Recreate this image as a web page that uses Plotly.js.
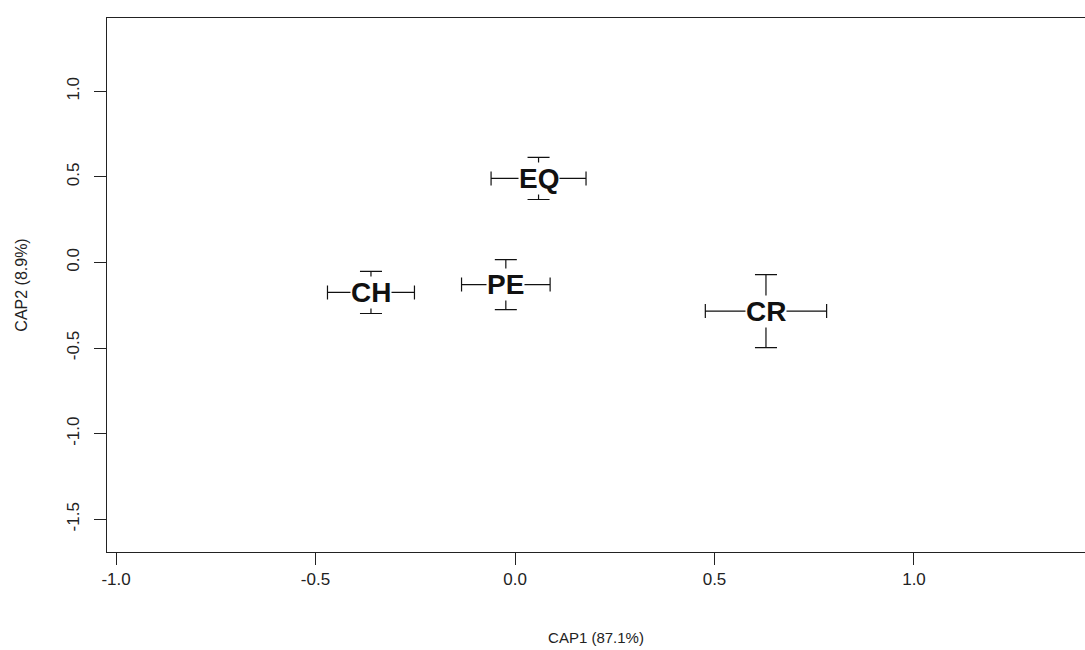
<!DOCTYPE html>
<html>
<head>
<meta charset="utf-8">
<script src="https://cdn.plot.ly/plotly-3.0.1.min.js"></script>
<style>html,body{margin:0;padding:0;background:#fff;}#chart{width:1085px;height:650px;}</style>
</head>
<body>
<div id="chart"></div>
<script>
// Group centroids on CAP axes with error (half-width) values
var groups = ["CH", "PE", "EQ", "CR"];
var cap1 = [-0.361, -0.023, 0.059, 0.629];
var cap2 = [-0.175, -0.129, 0.491, -0.284];
var cap1Err = [0.109, 0.111, 0.119, 0.152];
var cap2Err = [0.123, 0.146, 0.123, 0.213];

var xTickVals = [-1.0, -0.5, 0.0, 0.5, 1.0];
var xTickText = ["-1.0", "-0.5", "0.0", "0.5", "1.0"];
var yTickVals = [-1.5, -1.0, -0.5, 0.0, 0.5, 1.0];
var yTickText = ["-1.5", "-1.0", "-0.5", "0.0", "0.5", "1.0"];

var fontFam = "Arial, 'Liberation Sans', sans-serif";

var trace = {
  type: "scatter",
  mode: "markers",
  x: cap1,
  y: cap2,
  marker: {size: 2, color: "black", opacity: 0},
  error_x: {type: "data", array: cap1Err, visible: true, color: "#111", thickness: 1.2, width: 7},
  error_y: {type: "data", array: cap2Err, visible: true, color: "#111", thickness: 1.2, width: 11},
  hoverinfo: "skip",
  showlegend: false
};

var annotations = groups.map(function (g, i) {
  return {
    x: cap1[i], y: cap2[i], xref: "x", yref: "y",
    text: "<b>" + g + "</b>", showarrow: false,
    xanchor: "center", yanchor: "middle",
    bgcolor: "white", borderpad: 0,
    font: {family: fontFam, size: 28, color: "#111"}
  };
});

var layout = {
  width: 1085, height: 650,
  margin: {l: 107, r: 0, t: 18, b: 98},
  paper_bgcolor: "white", plot_bgcolor: "white",
  showlegend: false,
  font: {family: fontFam, color: "#222"},
  xaxis: {
    range: [-1.0226, 1.4286],
    tickvals: xTickVals, ticktext: xTickText,
    ticks: "outside", ticklen: 12, tickwidth: 1, tickcolor: "#222",
    showline: true, linecolor: "#222", linewidth: 1, mirror: true,
    showgrid: false, zeroline: false,
    tickfont: {family: fontFam, size: 17, color: "#222"},
    title: {text: "CAP1 (87.1%)", font: {family: fontFam, size: 15, color: "#222"}, standoff: 44}
  },
  yaxis: {
    range: [-1.691, 1.428],
    tickvals: yTickVals, ticktext: yTickText,
    tickangle: -90,
    ticks: "outside", ticklen: 12, tickwidth: 1, tickcolor: "#222",
    showline: true, linecolor: "#222", linewidth: 1, mirror: false,
    showgrid: false, zeroline: false,
    ticklabelstandoff: 8,
    tickfont: {family: fontFam, size: 17, color: "#222"},
    title: {text: "CAP2 (8.9%)", font: {family: fontFam, size: 16, color: "#222"}, standoff: 32}
  },
  annotations: annotations
};

Plotly.newPlot("chart", [trace], layout, {displayModeBar: false, staticPlot: true});
</script>
</body>
</html>
